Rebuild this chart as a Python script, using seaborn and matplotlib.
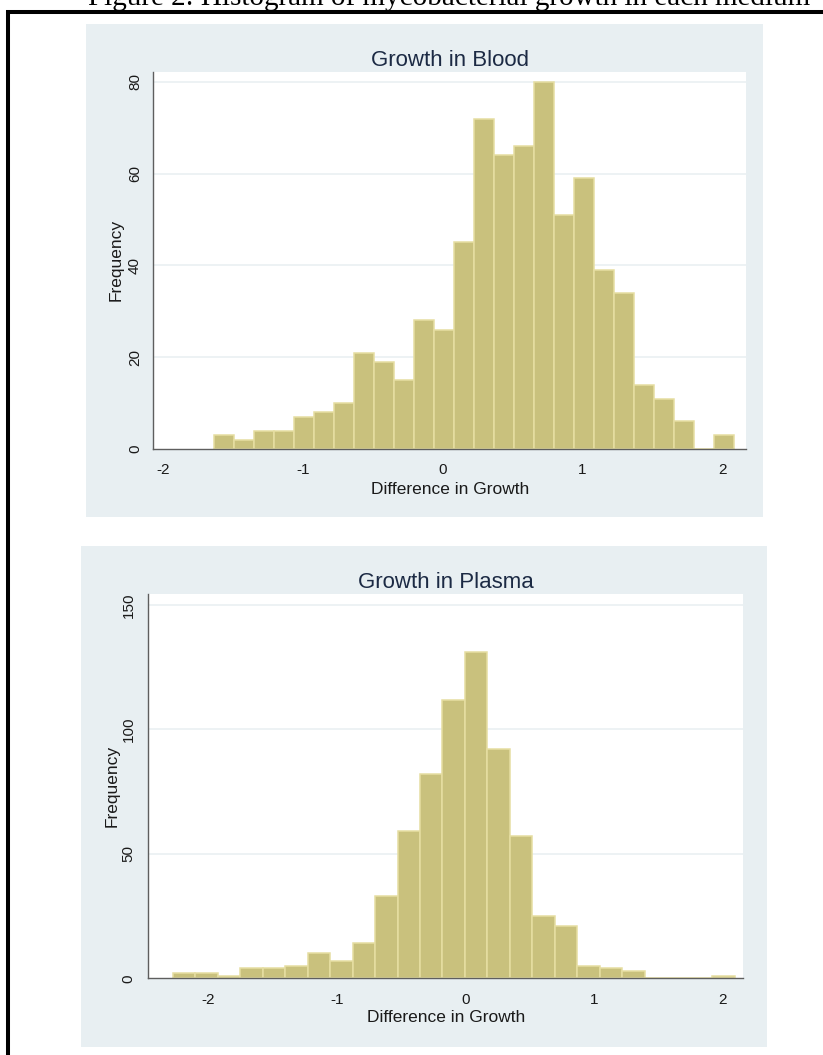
import numpy as np
import pandas as pd
import matplotlib
matplotlib.use("Agg")
import matplotlib.pyplot as plt
from matplotlib.patches import Rectangle
from matplotlib.lines import Line2D
import seaborn as sns

# Frequency of each histogram bin, left to right
blood_counts = [3, 2, 4, 4, 7, 8, 10, 21, 19, 15, 28, 26, 45, 72, 64, 66,
                80, 51, 59, 39, 34, 14, 11, 6, 0, 3]
blood_bin_start = -1.633
blood_bin_width = 0.143

plasma_counts = [2, 2, 1, 4, 4, 5, 10, 7, 14, 33, 59, 82, 112, 131, 92, 57,
                 25, 21, 5, 4, 3, 0, 0, 0, 1]
plasma_bin_start = -2.276
plasma_bin_width = 0.1748

x_ticks = [-2, -1, 0, 1, 2]
blood_yticks = [0, 20, 40, 60, 80]
plasma_yticks = [0, 50, 100, 150]

caption = "Figure 2: Histogram of mycobacterial growth in each medium"
blood_title = "Growth in Blood"
plasma_title = "Growth in Plasma"
x_label = "Difference in Growth"
y_label = "Frequency"

# Colours
BAR = "#C9C17D"
EDGE = "#E6DEA2"
PANEL = "#E8EFF2"
GRID = "#EDF2F4"
AXIS = "#5E5E5E"
TITLE = "#1C2A44"
TEXT = "#1A1A1A"

sns.set_style("white")
plt.rcParams["font.family"] = ["Liberation Sans", "DejaVu Sans"]
plt.rcParams["axes.unicode_minus"] = False

W, H = 823, 1055
fig = plt.figure(figsize=(W / 100, H / 100), dpi=100)
fig.patch.set_facecolor("white")


def fx(px):
    return px / W


def fy(py):
    return 1 - py / H


# Light graph-region panels behind each plot
for (x0, y0, x1, y1) in [(86, 24, 763, 517), (81, 546, 767, 1047)]:
    fig.add_artist(Rectangle((fx(x0), fy(y1)), fx(x1 - x0), (y1 - y0) / H,
                             transform=fig.transFigure, facecolor=PANEL,
                             edgecolor="none", zorder=0))

# Document frame and caption
fig.add_artist(Line2D([fx(6), fx(823)], [fy(11.5), fy(11.5)],
                      transform=fig.transFigure, color="black", lw=2.9,
                      solid_capstyle="butt"))
fig.add_artist(Line2D([fx(8), fx(8)], [fy(10), fy(1055)],
                      transform=fig.transFigure, color="black", lw=2.9,
                      solid_capstyle="butt"))
fig.text(fx(88), fy(5), caption, ha="left", va="baseline", fontsize=21,
         family=["Liberation Serif", "DejaVu Serif"], color="black")


def draw_panel(rect, counts, start, width, yticks, xlim, ylim, title,
               ylab_x, ytick_pad, title_pad, xlab_pad):
    ax = fig.add_axes(rect)
    ax.set_facecolor("white")
    edges = [start + width * i for i in range(len(counts) + 1)]
    centers = [(a + b) / 2 for a, b in zip(edges[:-1], edges[1:])]
    df = pd.DataFrame({"growth": centers, "count": counts})
    for y in yticks[1:]:
        ax.axhline(y, color=GRID, lw=1.4, zorder=0)
    sns.histplot(data=df, x="growth", weights="count", bins=edges,
                 stat="count", color=BAR, alpha=1, edgecolor=EDGE,
                 linewidth=1.1, ax=ax, zorder=2)
    ax.set_xlim(*xlim)
    ax.set_ylim(*ylim)
    ax.set_xticks(x_ticks)
    ax.set_yticks(yticks)
    for s in ["top", "right"]:
        ax.spines[s].set_visible(False)
    for s in ["left", "bottom"]:
        ax.spines[s].set_color(AXIS)
        ax.spines[s].set_linewidth(1.0)
    ax.tick_params(axis="both", direction="out", length=4.7, width=1.0,
                   color=AXIS, labelsize=11, labelcolor=TEXT)
    ax.tick_params(axis="x", pad=5.7)
    ax.tick_params(axis="y", pad=ytick_pad, labelrotation=90)
    for lbl in ax.get_yticklabels():
        lbl.set_va("center")
    ax.set_title(title, fontsize=16, color=TITLE, pad=title_pad)
    ax.set_xlabel(x_label, fontsize=12.5, color=TEXT, labelpad=xlab_pad)
    ax.set_ylabel(y_label, fontsize=12.5, color=TEXT)
    ax.yaxis.set_label_coords(ylab_x, 0.5)
    return ax


draw_panel([fx(153.3), fy(449), fx(746 - 153.3), (449 - 71.7) / H],
           blood_counts, blood_bin_start, blood_bin_width, blood_yticks,
           (-2.07, 2.17), (0, 82.2), blood_title,
           ylab_x=-0.0503, ytick_pad=3.5, title_pad=4.0, xlab_pad=3.0)

draw_panel([fx(148.3), fy(978.3), fx(743 - 148.3), (978.3 - 594) / H],
           plasma_counts, plasma_bin_start, plasma_bin_width, plasma_yticks,
           (-2.467, 2.16), (0, 154.4), plasma_title,
           ylab_x=-0.0486, ytick_pad=4.4, title_pad=4.3, xlab_pad=2.5)

fig.savefig("out.png", dpi=100)
